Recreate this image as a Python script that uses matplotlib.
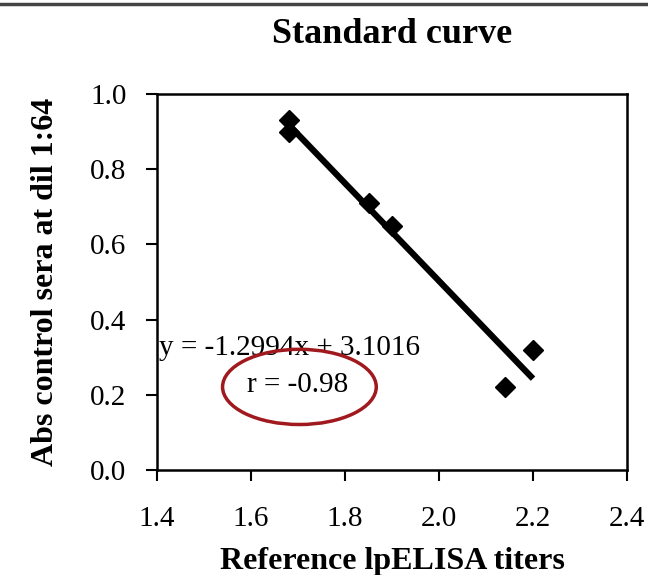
import matplotlib.pyplot as plt
from matplotlib.patches import Ellipse
from matplotlib.lines import Line2D
import numpy as np

# data
titers = [1.68, 1.68, 1.85, 1.90, 2.14, 2.20]
absorb = [0.93, 0.90, 0.71, 0.65, 0.22, 0.32]
slope = -1.2994
intercept = 3.1016
x_ticks = [1.4, 1.6, 1.8, 2.0, 2.2, 2.4]
y_ticks = [0.0, 0.2, 0.4, 0.6, 0.8, 1.0]

plt.rcParams['font.family'] = ['Liberation Serif', 'DejaVu Serif']
plt.rcParams['xtick.direction'] = 'out'
plt.rcParams['ytick.direction'] = 'out'

fig = plt.figure(figsize=(6.48, 5.75), dpi=100)
ax = fig.add_axes([157/648, 1 - 470/575, (627 - 157)/648, (470 - 94)/575])

x_fit = np.array([min(titers), max(titers)])
ax.plot(x_fit, slope*x_fit + intercept, color='black', lw=4.5, solid_capstyle='butt', zorder=2)
ax.plot(titers, absorb, 'D', color='black', ms=10, zorder=3)

ax.set_xlim(1.4, 2.4)
ax.set_ylim(0.0, 1.0)
ax.set_xticks(x_ticks)
ax.set_yticks(y_ticks)
ax.set_xticklabels(['%.1f' % v for v in x_ticks])
ax.set_yticklabels(['%.1f' % v for v in y_ticks])
ax.tick_params(labelsize=21, length=8, width=1.5, colors='black')
ax.tick_params(axis='y', pad=14)
ax.tick_params(axis='x', pad=18)
for s in ax.spines.values():
    s.set_linewidth(1.8)

ax.set_title('Standard curve', fontsize=26, fontweight='bold', pad=37)
ax.set_xlabel('Reference lpELISA titers', fontsize=23, fontweight='bold', labelpad=11)
ax.set_ylabel('Abs control sera at dil 1:64', fontsize=23, fontweight='bold', labelpad=22)

ax.text(1.405, 0.324, 'y = -1.2994x + 3.1016', fontsize=21, va='center', ha='left')
ax.text(1.699, 0.226, 'r = -0.98', fontsize=21, va='center', ha='center')
ax.add_patch(Ellipse((1.703, 0.221), 0.327, 0.20, fill=False, edgecolor='#a0191e', lw=2.5, zorder=4))

# frame line along the top of the picture
fig.add_artist(Line2D([0, 1], [1 - 4/575, 1 - 4/575], transform=fig.transFigure, color='#444444', lw=2.5))

fig.savefig('out.png', dpi=100)
